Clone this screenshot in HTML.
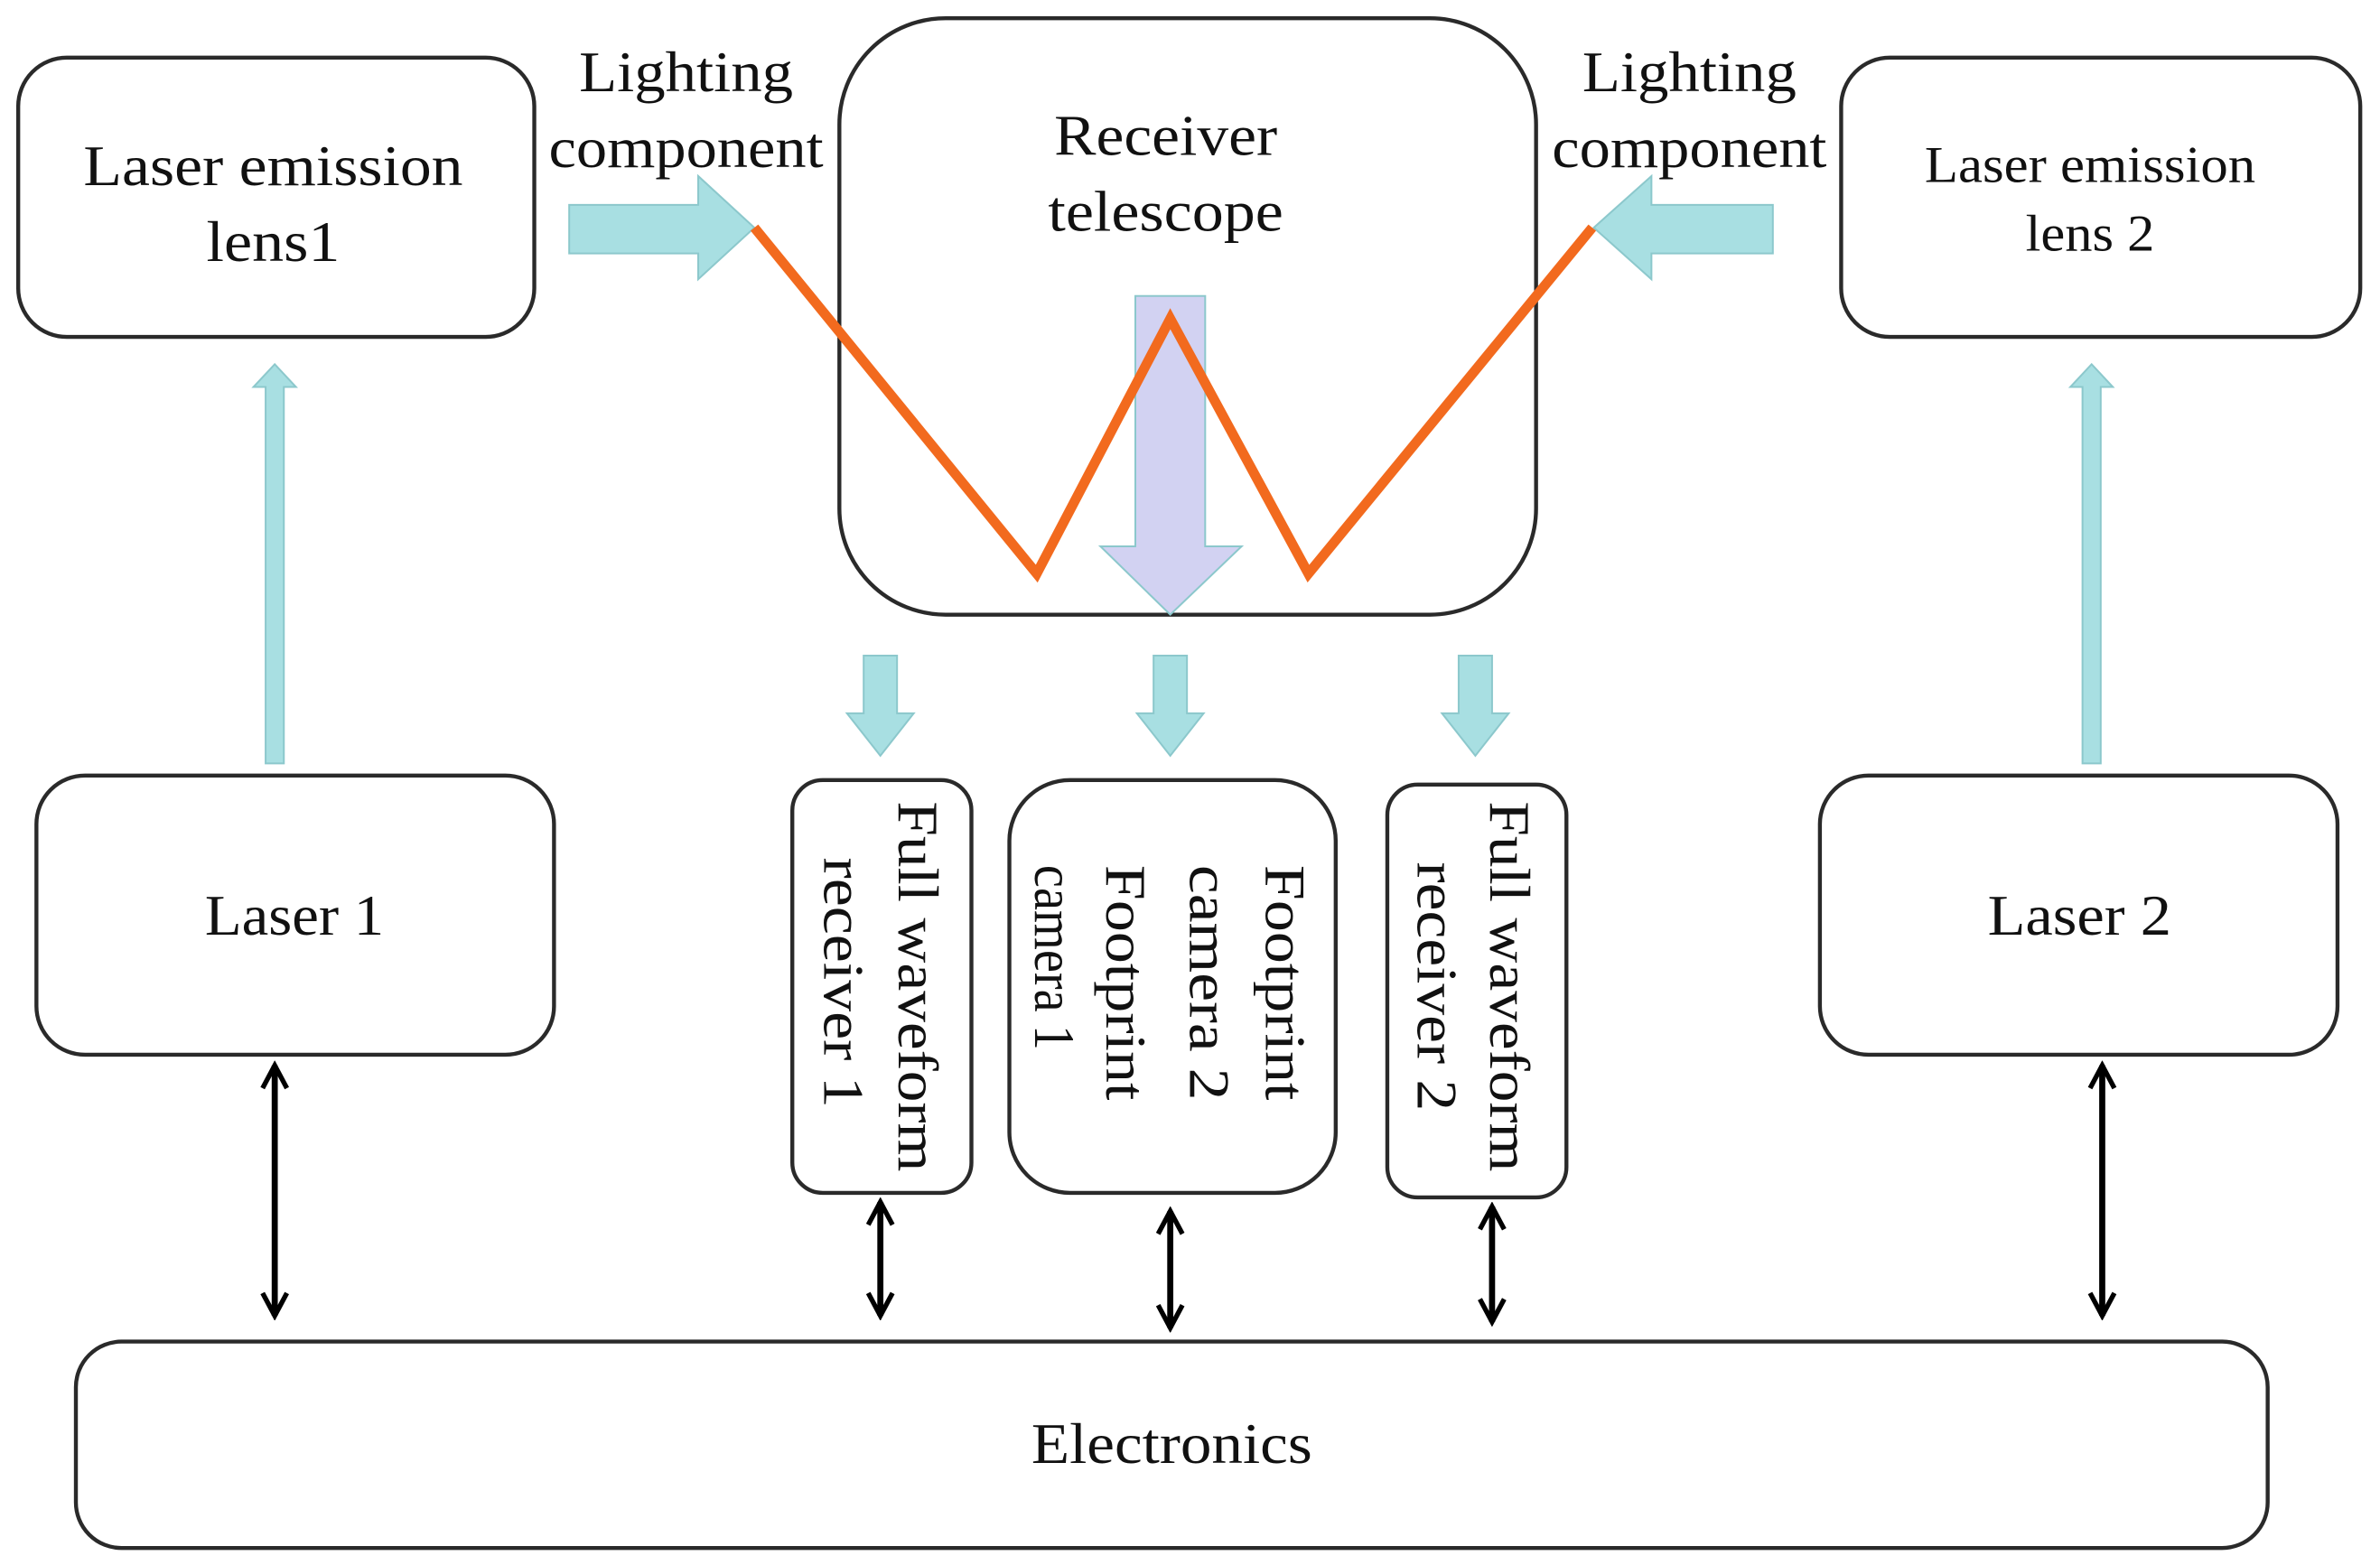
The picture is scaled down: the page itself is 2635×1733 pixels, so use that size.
<!DOCTYPE html>
<html><head><meta charset="utf-8"><style>
html,body{margin:0;padding:0;background:#fff;}
svg{display:block;}
text{font-family:"Liberation Serif",serif;fill:#111;}
</style></head><body>
<svg width="2635" height="1733" viewBox="0 0 1568 1031.2" preserveAspectRatio="none" xmlns="http://www.w3.org/2000/svg">
<defs>
<marker id="ah" viewBox="0 0 10 10" refX="8.5" refY="5" markerWidth="5" markerHeight="5" orient="auto-start-reverse">
<path d="M1,1 L8.5,5 L1,9" fill="none" stroke="#000" stroke-width="1.6"/>
</marker>
</defs>
<g fill="none" stroke="#2a2a2a" stroke-width="2.6">
<rect x="12" y="38" width="340" height="184" rx="32"/>
<rect x="553" y="12" width="459" height="393" rx="70"/>
<rect x="1213" y="38" width="342" height="184" rx="32"/>
<rect x="24" y="511" width="341" height="184" rx="32"/>
<rect x="1199" y="511" width="341" height="184" rx="32"/>
<rect x="522" y="514" width="118" height="272" rx="20"/>
<rect x="665" y="514" width="215" height="272" rx="40"/>
<rect x="914" y="517" width="118" height="272" rx="20"/>
<rect x="50" y="884" width="1444" height="136" rx="30"/>
</g>
<g fill="#a8dfe2" stroke="#8cc8cc" stroke-width="1.2">
<polygon points="375,135 460,135 460,116 497,150 460,184 460,167 375,167"/>
<polygon points="1168,135 1088,135 1088,116 1050,150 1088,184 1088,167 1168,167"/>
<polygon points="175,503 175,255 167,255 181,240 195,255 187,255 187,503"/>
<polygon points="1372,503 1372,255 1364,255 1378,240 1392,255 1384,255 1384,503"/>
<polygon points="569,432 591,432 591,470 602,470 580,498 558,470 569,470"/>
<polygon points="760,432 782,432 782,470 793,470 771,498 749,470 760,470"/>
<polygon points="961,432 983,432 983,470 994,470 972,498 950,470 961,470"/>
</g>
<polygon points="748,195 794,195 794,360 818,360 771,405 725,360 748,360" fill="#d2d2f2" stroke="#8cc8cc" stroke-width="1.2"/>
<polyline points="497,150 683,378 771,210 862,378 1049,150" fill="none" stroke="#f26a1e" stroke-width="6.5" stroke-linejoin="miter"/>
<g stroke="#000" stroke-width="4" marker-start="url(#ah)" marker-end="url(#ah)">
<line x1="181" y1="702" x2="181" y2="867"/>
<line x1="580" y1="792" x2="580" y2="867"/>
<line x1="771" y1="798" x2="771" y2="875"/>
<line x1="983" y1="795" x2="983" y2="871"/>
<line x1="1385" y1="702" x2="1385" y2="867"/>
</g>
<g font-size="38" text-anchor="middle">
<text x="180" y="122" textLength="250" lengthAdjust="spacingAndGlyphs">Laser emission</text>
<text x="180" y="172" textLength="88" lengthAdjust="spacingAndGlyphs">lens1</text>
<text x="452" y="60" textLength="141" lengthAdjust="spacingAndGlyphs">Lighting</text>
<text x="452" y="110" textLength="181" lengthAdjust="spacingAndGlyphs">component</text>
<text x="1113" y="60" textLength="141" lengthAdjust="spacingAndGlyphs">Lighting</text>
<text x="1113" y="110" textLength="181" lengthAdjust="spacingAndGlyphs">component</text>
<text x="768" y="102" textLength="147" lengthAdjust="spacingAndGlyphs">Receiver</text>
<text x="768" y="152" textLength="155" lengthAdjust="spacingAndGlyphs">telescope</text>
<text x="194" y="616" textLength="118" lengthAdjust="spacingAndGlyphs">Laser 1</text>
<text x="1370" y="616" textLength="121" lengthAdjust="spacingAndGlyphs">Laser 2</text>
<text x="772" y="964" textLength="185" lengthAdjust="spacingAndGlyphs">Electronics</text>
</g>
<g font-size="34" text-anchor="middle">
<text x="1377" y="120" textLength="218" lengthAdjust="spacingAndGlyphs">Laser emission</text>
<text x="1377" y="165" textLength="85" lengthAdjust="spacingAndGlyphs">lens 2</text>
</g>
<g font-size="38">
<text transform="translate(592,528) rotate(90)" textLength="244" lengthAdjust="spacingAndGlyphs">Full waveform</text>
<text transform="translate(543,565) rotate(90)" textLength="165" lengthAdjust="spacingAndGlyphs">receiver 1</text>
<text transform="translate(834,570) rotate(90)" textLength="155" lengthAdjust="spacingAndGlyphs">Footprint</text>
<text transform="translate(784,570) rotate(90)" textLength="155" lengthAdjust="spacingAndGlyphs">camera 2</text>
<text transform="translate(729,570) rotate(90)" textLength="155" lengthAdjust="spacingAndGlyphs">Footprint</text>
<text transform="translate(682,570) rotate(90)" textLength="122" lengthAdjust="spacingAndGlyphs">camera 1</text>
<text transform="translate(982,528) rotate(90)" textLength="244" lengthAdjust="spacingAndGlyphs">Full waveform</text>
<text transform="translate(934,568) rotate(90)" textLength="164" lengthAdjust="spacingAndGlyphs">receiver 2</text>
</g>
</svg>
</body></html>
